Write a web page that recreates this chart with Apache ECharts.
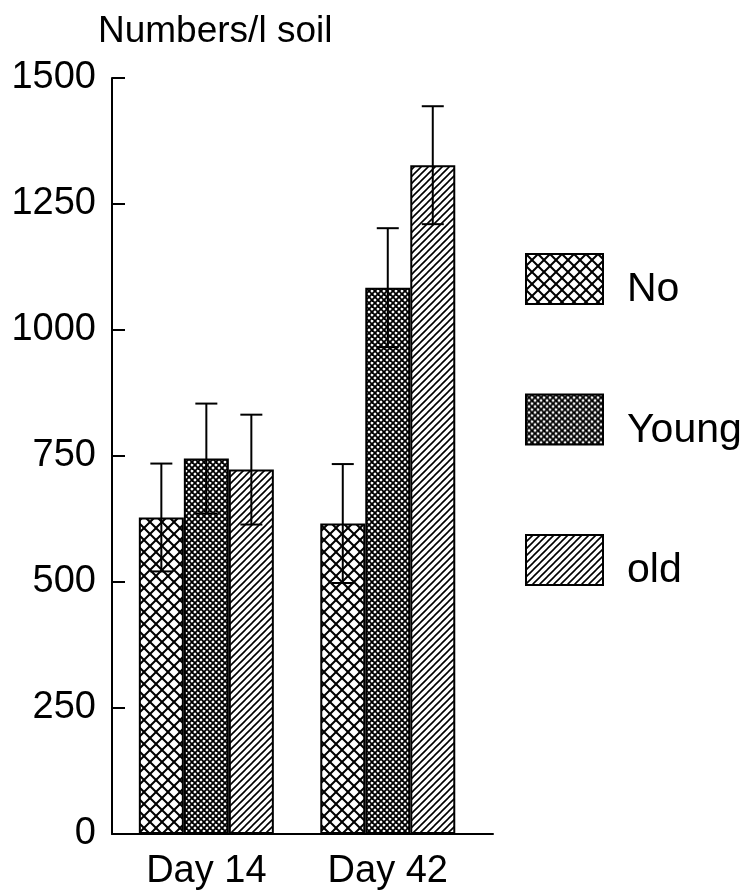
<!DOCTYPE html>
<html>
<head>
<meta charset="utf-8">
<script src="https://cdn.jsdelivr.net/npm/echarts@6/dist/echarts.min.js"></script>
<style>
  html, body { margin: 0; padding: 0; background: #fff; }
  #chart { width: 744px; height: 891px; }
</style>
</head>
<body>
<div id="chart"></div>
<script>
// Sampling days and their positions on the horizontal axis
const categories = ['Day 14', 'Day 42'];
const categoryPos = [0.52, 1.52];

// Treatments
const seriesNames = ['No', 'Young', 'old'];

// Mean numbers per litre of soil and standard errors
const noValues = [628, 616];
const noErr = [107, 118];
const youngValues = [745, 1084];
const youngErr = [109, 118];
const oldValues = [723, 1327];
const oldErr = [109, 117];

// Y axis ticks
const yTicks = [0, 250, 500, 750, 1000, 1250, 1500];

const FONT = '"Liberation Sans", Arial, Helvetica, sans-serif';
const BAR_W = 45;

// Hatch tiles drawn on small canvases and used as repeating fills
function hatch(size, lineW, kinds) {
  const c = document.createElement('canvas');
  c.width = size; c.height = size;
  const g = c.getContext('2d');
  g.fillStyle = '#fff';
  g.fillRect(0, 0, size, size);
  g.strokeStyle = '#000';
  g.lineWidth = lineW;
  g.lineCap = 'square';
  for (let k = -1; k <= 1; k++) {
    const o = k * size;
    if (kinds.indexOf('/') >= 0) {
      g.beginPath(); g.moveTo(o, size); g.lineTo(o + size, 0); g.stroke();
    }
    if (kinds.indexOf('\\') >= 0) {
      g.beginPath(); g.moveTo(o, 0); g.lineTo(o + size, size); g.stroke();
    }
  }
  return { image: c, repeat: 'repeat' };
}

const fills = [
  hatch(12, 2.0, '/\\'),
  hatch(6, 1.8, '/\\'),
  hatch(7, 1.6, '/')
];

const means = [noValues, youngValues, oldValues];
const errs = [noErr, youngErr, oldErr];

const barSeries = seriesNames.map((name, i) => ({
  name: name,
  type: 'bar',
  barWidth: BAR_W,
  barGap: '0%',
  itemStyle: { color: fills[i], borderColor: '#000', borderWidth: 2 },
  z: 2,
  data: categoryPos.map((p, j) => [p, means[i][j]])
}));

const errSeries = seriesNames.map((name, i) => ({
  name: name + ' error',
  type: 'custom',
  z: 5,
  data: categoryPos.map((p, j) => [p, means[i][j], errs[i][j]]),
  renderItem: function (params, api) {
    const x = api.value(0), m = api.value(1), e = api.value(2);
    const shift = (i - 1) * BAR_W;
    const hi = api.coord([x, m + e]);
    const lo = api.coord([x, m - e]);
    const cx = hi[0] + shift;
    const cap = 11;
    const st = { stroke: '#000', lineWidth: 2 };
    return {
      type: 'group',
      children: [
        { type: 'line', shape: { x1: cx, y1: hi[1], x2: cx, y2: lo[1] }, style: st },
        { type: 'line', shape: { x1: cx - cap, y1: hi[1], x2: cx + cap, y2: hi[1] }, style: st },
        { type: 'line', shape: { x1: cx - cap, y1: lo[1], x2: cx + cap, y2: lo[1] }, style: st }
      ]
    };
  }
}));

const chart = echarts.init(document.getElementById('chart'), null, { renderer: 'canvas' });

chart.setOption({
  animation: false,
  backgroundColor: '#fff',
  title: {
    text: 'Numbers/l soil',
    left: 98,
    top: 13,
    padding: 0,
    textStyle: { fontFamily: FONT, fontSize: 37, fontWeight: 'normal', color: '#000' }
  },
  legend: {
    orient: 'vertical',
    left: 525,
    top: 253,
    itemWidth: 77,
    itemHeight: 50,
    itemGap: 83,
    padding: 0,
    data: seriesNames,
    icon: 'rect',
    formatter: '{t|{name}}',
    textStyle: {
      fontFamily: FONT,
      fontSize: 41,
      color: '#000',
      rich: {
        t: { fontFamily: FONT, fontSize: 41, color: '#000', padding: [22, 0, 0, 19] }
      }
    },
    itemStyle: { borderColor: '#000', borderWidth: 2 }
  },
  grid: { left: 112, top: 78, width: 381, height: 757, containLabel: false },
  xAxis: {
    type: 'value',
    min: 0,
    max: 2.1,
    splitLine: { show: false },
    axisTick: { show: false },
    axisLine: { show: true, onZero: false, lineStyle: { color: '#000', width: 2 } },
    axisLabel: {
      customValues: categoryPos,
      margin: 19,
      fontFamily: FONT,
      fontSize: 38,
      color: '#000',
      formatter: function (v) {
        const k = categoryPos.indexOf(v);
        return k >= 0 ? categories[k] : '';
      }
    }
  },
  yAxis: {
    type: 'value',
    min: yTicks[0],
    max: yTicks[yTicks.length - 1],
    interval: 250,
    splitLine: { show: false },
    axisLine: { show: true, lineStyle: { color: '#000', width: 2 } },
    axisTick: { show: true, inside: true, length: 13, lineStyle: { color: '#000', width: 2 } },
    axisLabel: {
      margin: 16,
      fontFamily: FONT,
      fontSize: 38,
      color: '#000',
      padding: [8, 0, 0, 0],
      formatter: function (v) { return String(v); }
    }
  },
  series: barSeries.concat(errSeries)
});
</script>
</body>
</html>
